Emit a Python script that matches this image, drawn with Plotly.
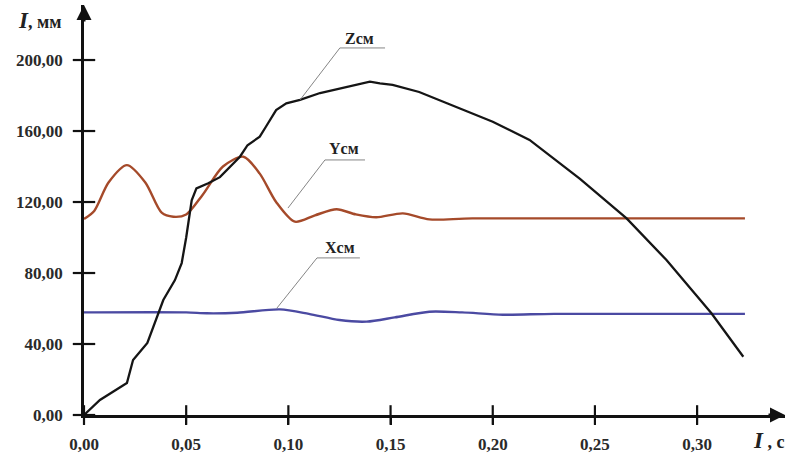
import plotly.graph_objects as go

# ---- data ----
z_t = [0.0, 0.0078, 0.021, 0.024, 0.031, 0.034, 0.0388, 0.0445, 0.0478, 0.050, 0.0527,
       0.055, 0.0608, 0.0665, 0.0714, 0.0763, 0.080, 0.086, 0.089, 0.094, 0.099, 0.1057,
       0.1155, 0.130, 0.1399, 0.1448, 0.151, 0.164, 0.184, 0.200, 0.218, 0.2427, 0.2655,
       0.285, 0.307, 0.3226]
z_v = [0.0, 8.5, 18.0, 31.0, 40.6, 49.7, 64.8, 76.0, 85.6, 100.0, 121.0,
       127.7, 130.6, 134.0, 140.0, 145.5, 152.0, 156.8, 162.4, 171.8, 175.6, 177.5,
       181.4, 185.0, 187.8, 186.9, 186.0, 182.0, 172.8, 165.2, 155.0, 133.0, 110.8,
       87.3, 57.3, 32.8]

y_t = [0.0, 0.005, 0.012, 0.021, 0.030, 0.038, 0.0437, 0.050, 0.058, 0.068, 0.078,
       0.086, 0.094, 0.1032, 0.113, 0.1236, 0.133, 0.143, 0.156, 0.169, 0.190, 0.3234]
y_v = [110.5, 115.0, 131.0, 140.8, 131.0, 114.0, 111.7, 113.0, 124.0, 140.0, 145.5,
       136.0, 120.0, 108.9, 112.5, 115.9, 113.0, 111.4, 113.6, 110.2, 110.8, 110.8]

x_t = [0.0, 0.050, 0.060, 0.075, 0.0959, 0.110, 0.125, 0.1383, 0.152, 0.169, 0.185,
       0.205, 0.230, 0.3234]
x_v = [57.8, 57.8, 57.3, 57.6, 59.5, 57.0, 53.5, 52.6, 55.0, 58.2, 57.8,
       56.5, 57.0, 57.0]

x_ticks = [0.00, 0.05, 0.10, 0.15, 0.20, 0.25, 0.30]
y_ticks = [0, 40, 80, 120, 160, 200]

series_names = ["Xсм", "Yсм", "Zсм"]
# label text position, underline span, leader end point (data coords)
label_pos = {
    "Zсм": dict(tx=0.135, ty=212.4, u0=0.1252, u1=0.1473, uy=206.8, ex=0.1057, ey=177.5),
    "Yсм": dict(tx=0.1272, ty=150.4, u0=0.1179, u1=0.1375, uy=143.7, ex=0.0998, ey=116.6),
    "Xсм": dict(tx=0.1252, ty=94.1, u0=0.1140, u1=0.1350, uy=88.5, ex=0.0943, ey=60.1),
}

FONT = "Liberation Serif"
XMAX, YMAX = 0.343, 231
AX = "#111111"

fig = go.Figure()

fig.add_trace(go.Scatter(x=x_t, y=x_v, mode="lines", line=dict(color="#4b4aa2", width=2.4, shape="spline", smoothing=0.8)))
fig.add_trace(go.Scatter(x=y_t, y=y_v, mode="lines", line=dict(color="#a54a2a", width=2.4, shape="spline", smoothing=0.8)))
fig.add_trace(go.Scatter(x=z_t, y=z_v, mode="lines", line=dict(color="#151515", width=2.3)))

# leader lines with underline
for name in series_names:
    p = label_pos[name]
    fig.add_trace(go.Scatter(x=[p["ex"], p["u0"], p["u1"]], y=[p["ey"], p["uy"], p["uy"]],
                             mode="lines", line=dict(color="#777777", width=0.9)))
    fig.add_annotation(x=p["tx"], y=p["ty"], text="<b>%s</b>" % name, showarrow=False,
                       font=dict(family=FONT, size=16, color="#222"))

# inner half of the crossing tick marks
fig.add_trace(go.Scatter(x=x_ticks, y=[0] * len(x_ticks), mode="markers", cliponaxis=False,
                         marker=dict(symbol="line-ns-open", size=14, color=AX, line=dict(color=AX, width=2.2))))
fig.add_trace(go.Scatter(x=[0] * len(y_ticks), y=y_ticks, mode="markers", cliponaxis=False,
                         marker=dict(symbol="line-ew-open", size=16, color=AX, line=dict(color=AX, width=2.2))))

# axis arrowheads
fig.add_annotation(x=1, y=0, ax=-18, ay=0, xref="paper", yref="paper",
                   showarrow=True, arrowhead=2, arrowsize=1.0, arrowwidth=3, arrowcolor=AX, text="")
fig.add_annotation(x=0, y=1, ax=0, ay=18, xref="paper", yref="paper",
                   showarrow=True, arrowhead=2, arrowsize=1.0, arrowwidth=3, arrowcolor=AX, text="")

# axis titles
fig.add_annotation(xref="paper", yref="paper", x=-0.063, y=0.962,
                   text="<b><i><span style='font-size:23px'>I</span></i>, мм</b>", showarrow=False,
                   font=dict(family=FONT, size=18, color="#222"), xanchor="center", yanchor="middle")
fig.add_annotation(xref="paper", yref="paper", x=0.977, y=-0.062,
                   text="<b><i><span style='font-size:23px'>I</span></i> , с</b>", showarrow=False,
                   font=dict(family=FONT, size=18, color="#222"), xanchor="center", yanchor="middle")

fig.update_layout(
    width=788, height=456,
    margin=dict(l=84, r=3, t=5, b=41),
    paper_bgcolor="white", plot_bgcolor="white",
    showlegend=False,
    separators=", ",
    font=dict(family=FONT, size=13, color="#333"),
    xaxis=dict(range=[0, XMAX], tickvals=x_ticks, tickformat=".2f", showgrid=False, zeroline=False,
               showline=True, linecolor=AX, linewidth=2.6, ticks="outside", ticklen=7, tickwidth=2.2,
               tickcolor=AX, ticklabelstandoff=5,
               tickfont=dict(family=FONT, size=17, color="#2a2a2a", weight="bold")),
    yaxis=dict(range=[0, YMAX], tickvals=y_ticks, tickformat=".2f", showgrid=False, zeroline=False,
               showline=True, linecolor=AX, linewidth=2.6, ticks="outside", ticklen=8, tickwidth=2.2,
               tickcolor=AX, ticklabelstandoff=7,
               tickfont=dict(family=FONT, size=17, color="#2a2a2a", weight="bold")),
)

fig.write_html("out.html", config={"displayModeBar": False},
               post_script="document.body.style.margin='0';")
